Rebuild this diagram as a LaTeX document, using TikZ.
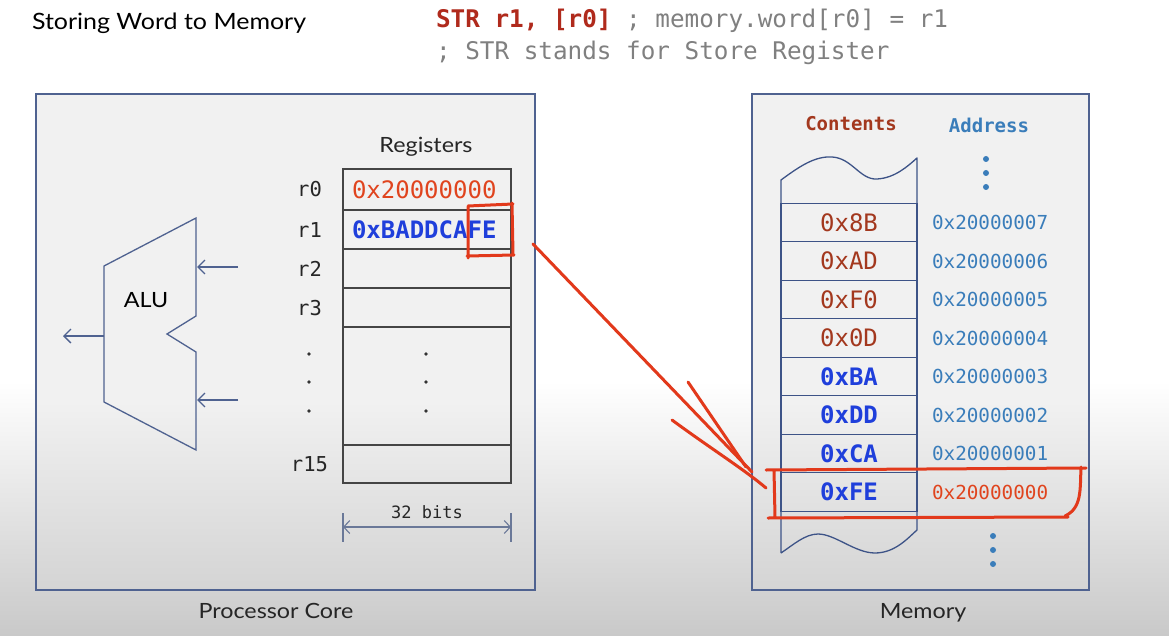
\documentclass[tikz,border=0pt]{standalone}
\usepackage{fontspec}
\setmainfont{Lato}[FakeStretch=1.11]
\setmonofont{DejaVu Sans Mono}
\usetikzlibrary{arrows.meta}
\definecolor{framec}{HTML}{4F6290}
\definecolor{ptop}{HTML}{F1F1F1}
\definecolor{pbot}{HTML}{D4D4D4}
\definecolor{bgbot}{HTML}{C9C9C9}
\definecolor{codered}{HTML}{B02A1C}
\definecolor{codegray}{HTML}{808080}
\definecolor{valred}{HTML}{E0441E}
\definecolor{valblue}{HTML}{1F3FDB}
\definecolor{brownc}{HTML}{A3381E}
\definecolor{addrblue}{HTML}{3A7DBA}
\definecolor{cellline}{HTML}{454545}
\definecolor{memline}{HTML}{3D5387}
\definecolor{annot}{HTML}{E2391B}
\definecolor{dimc}{HTML}{6A7898}
\pgfdeclareverticalshading{bgshade}{100bp}{color(0bp)=(bgbot); color(25bp)=(bgbot); color(45bp)=(white); color(100bp)=(white)}
\pgfdeclareverticalshading{panelshade}{100bp}{color(0bp)=(pbot); color(25bp)=(pbot); color(44bp)=(ptop); color(100bp)=(ptop)}
\begin{document}
\begin{tikzpicture}[x=1pt,y=-1pt,
  every node/.style={inner sep=0pt,outer sep=0pt},
  sanslbl/.style={font=\fontsize{21}{25}\selectfont,text=black!85},
  monoA/.style={font=\ttfamily\fontsize{24}{28}\selectfont},
  codefont/.style={font=\ttfamily\fontsize{24.3}{28}\selectfont},
  monoB/.style={font=\ttfamily\fontsize{19.3}{23}\selectfont},
  monoC/.style={font=\ttfamily\fontsize{17}{20}\selectfont},
  rlabel/.style={font=\ttfamily\fontsize{20.5}{24}\selectfont,text=black!85},
  panel/.style={draw=framec,line width=1.5pt,shade,shading=panelshade},
  regcell/.style={draw=cellline,line width=1.2pt,minimum width=168},
  memcell/.style={draw=memline,line width=1.3pt,minimum width=136,minimum height=38.5,monoA},
  dotg/.style={circle,fill=black!80,minimum size=3.6},
  dotb/.style={circle,fill=addrblue,minimum size=6},
  wire/.style={draw=framec,line width=1.3pt},
  redmark/.style={draw=annot,line width=3pt,line cap=round,line join=round}]
\shade[shading=bgshade] (0,0) rectangle (1169,636);
\useasboundingbox (0,0) rectangle (1169,636);

% title and code
\node[anchor=west,font=\fontsize{22.5}{26}\selectfont] (title) at (32,23) {Storing Word to Memory};
\node[anchor=west,codefont] (code1) at (436,21) {\textcolor{codered}{\bfseries STR r1, [r0]} \textcolor{codegray}{; memory.word[r0] = r1}};
\node[anchor=west,codefont,text=codegray] (code2) at (436,53) {; STR stands for Store Register};

% panels
\node[panel,minimum width=499,minimum height=496] (core) at (285.5,342) {};
\node[panel,minimum width=337,minimum height=496] (mem) at (920.5,342) {};
\node[sanslbl] (corelbl) at (276,611) {Processor Core};
\node[sanslbl] (memlbl) at (923,613) {Memory};

% registers
\node[sanslbl] (regtitle) at (426,147) {Registers};
\node[regcell,minimum height=41] (c0) at (427,189.5) {};
\node[regcell,minimum height=39] (c1) at (427,229.5) {};
\node[regcell,minimum height=39] (c2) at (427,268.5) {};
\node[regcell,minimum height=39] (c3) at (427,307.5) {};
\node[regcell,minimum height=118] (cmid) at (427,386) {};
\node[regcell,minimum height=38] (c15) at (427,464) {};
\node[anchor=west,monoA,text=valred] (v0) at (352,190) {0x20000000};
\node[anchor=west,monoA,text=valblue,font=\ttfamily\bfseries\fontsize{24}{28}\selectfont] (v1) at (352,230) {0xBADDCAFE};
\node[rlabel] (l0) at (309.5,189) {r0};
\node[rlabel] (l1) at (309.5,230) {r1};
\node[rlabel] (l2) at (309.5,269) {r2};
\node[rlabel] (l3) at (309.5,308) {r3};
\node[rlabel] (l15) at (309.5,464) {r15};
\foreach \yy [count=\i] in {354,382,411}{
  \node[dotg] (ld\i) at (309,\yy) {};
  \node[dotg] (cd\i) at (426,\yy) {};
}
% 32 bits
\coordinate (bl) at (343,527);
\coordinate (br) at (511,527);
\draw[dimc,line width=1.1pt] (343,513) -- (343,542) (511,513) -- (511,542);
\draw[dimc,line width=1.1pt,{Straight Barb[length=6pt,width=13pt]}-{Straight Barb[length=6pt,width=13pt]}] (bl) -- (br);
\node[monoC,text=black!85] (bits) at (427,512) {32 bits};

% ALU
\draw[wire,line join=miter] (104,266) -- (196,218) -- (196,316) -- (167,334) -- (196,352) -- (196,450) -- (104,402) -- cycle;
\node[font=\fontsize{21}{25}\selectfont] (alu) at (146,300) {ALU};
\coordinate (i1s) at (238,267); \coordinate (i1e) at (197,267);
\coordinate (i2s) at (238,400); \coordinate (i2e) at (197,400);
\coordinate (os) at (104,336); \coordinate (oe) at (63,336);
\draw[wire,-{Straight Barb[length=7pt,width=14pt]}] (i1s) -- (i1e);
\draw[wire,-{Straight Barb[length=7pt,width=14pt]}] (i2s) -- (i2e);
\draw[wire,-{Straight Barb[length=7pt,width=14pt]}] (os) -- (oe);

% memory
\node[text=brownc,font=\ttfamily\bfseries\fontsize{19}{23}\selectfont] (hc) at (851,124) {Contents};
\node[text=addrblue,font=\ttfamily\bfseries\fontsize{19}{23}\selectfont] (ha) at (989,125) {Address};
\draw[memline,line width=1.3pt,line join=round]
  (781,553) -- (781,180) .. controls (800,166) and (815,156) .. (832,157)
  .. controls (852,158) and (860,180) .. (877,179)
  .. controls (895,178) and (908,166) .. (917,158) -- (917,530)
  .. controls (908,538) and (895,553) .. (875,553)
  .. controls (855,553) and (835,534) .. (818,534)
  .. controls (805,534) and (793,545) .. (781,553);
\node[memcell,text=brownc] (m7) at (849,222.5) {0x8B};
\node[memcell,text=brownc] (m6) at (849,261) {0xAD};
\node[memcell,text=brownc] (m5) at (849,299.5) {0xF0};
\node[memcell,text=brownc] (m4) at (849,338) {0x0D};
\node[memcell,text=valblue,font=\ttfamily\bfseries\fontsize{24}{28}\selectfont] (m3) at (849,376.5) {0xBA};
\node[memcell,text=valblue,font=\ttfamily\bfseries\fontsize{24}{28}\selectfont] (m2) at (849,415) {0xDD};
\node[memcell,text=valblue,font=\ttfamily\bfseries\fontsize{24}{28}\selectfont] (m1) at (849,453.5) {0xCA};
\node[memcell,text=valblue,font=\ttfamily\bfseries\fontsize{24}{28}\selectfont] (m0) at (849,492) {0xFE};
\node[anchor=west,monoB,text=addrblue] (a7) at (932,222.5) {0x20000007};
\node[anchor=west,monoB,text=addrblue] (a6) at (932,261) {0x20000006};
\node[anchor=west,monoB,text=addrblue] (a5) at (932,299.5) {0x20000005};
\node[anchor=west,monoB,text=addrblue] (a4) at (932,338) {0x20000004};
\node[anchor=west,monoB,text=addrblue] (a3) at (932,376.5) {0x20000003};
\node[anchor=west,monoB,text=addrblue] (a2) at (932,415) {0x20000002};
\node[anchor=west,monoB,text=addrblue] (a1) at (932,453.5) {0x20000001};
\node[anchor=west,monoB,text=valred] (a0) at (932,492) {0x20000000};
\foreach \yy [count=\i] in {159,173,187}{\node[dotb] (td\i) at (986,\yy) {};}
\foreach \yy [count=\i] in {536,550,564}{\node[dotb] (bd\i) at (993,\yy) {};}

% red annotations
\draw[redmark] (468,206) -- (513,204) (512,203) -- (513,254) (514,255) -- (467,256) (468,258) -- (468,207);
\draw[redmark] (766,470) -- (1086,468) (1081,467) .. controls (1080,490) and (1082,508) .. (1065,516)
  (1068,517) -- (768,518) (774,470) -- (775,517);
\coordinate (as) at (533,244);
\coordinate (ae) at (752,472);
\coordinate (at) at (766,488);
\coordinate (h1s) at (688,382);
\coordinate (h1e) at (746,467);
\coordinate (h2s) at (672,420);
\draw[redmark] (as) -- (ae);
\draw[redmark] (h1s) -- (h1e);
\draw[redmark] (h2s) .. controls (710,448) and (745,470) .. (at);
\end{tikzpicture}
\end{document}
